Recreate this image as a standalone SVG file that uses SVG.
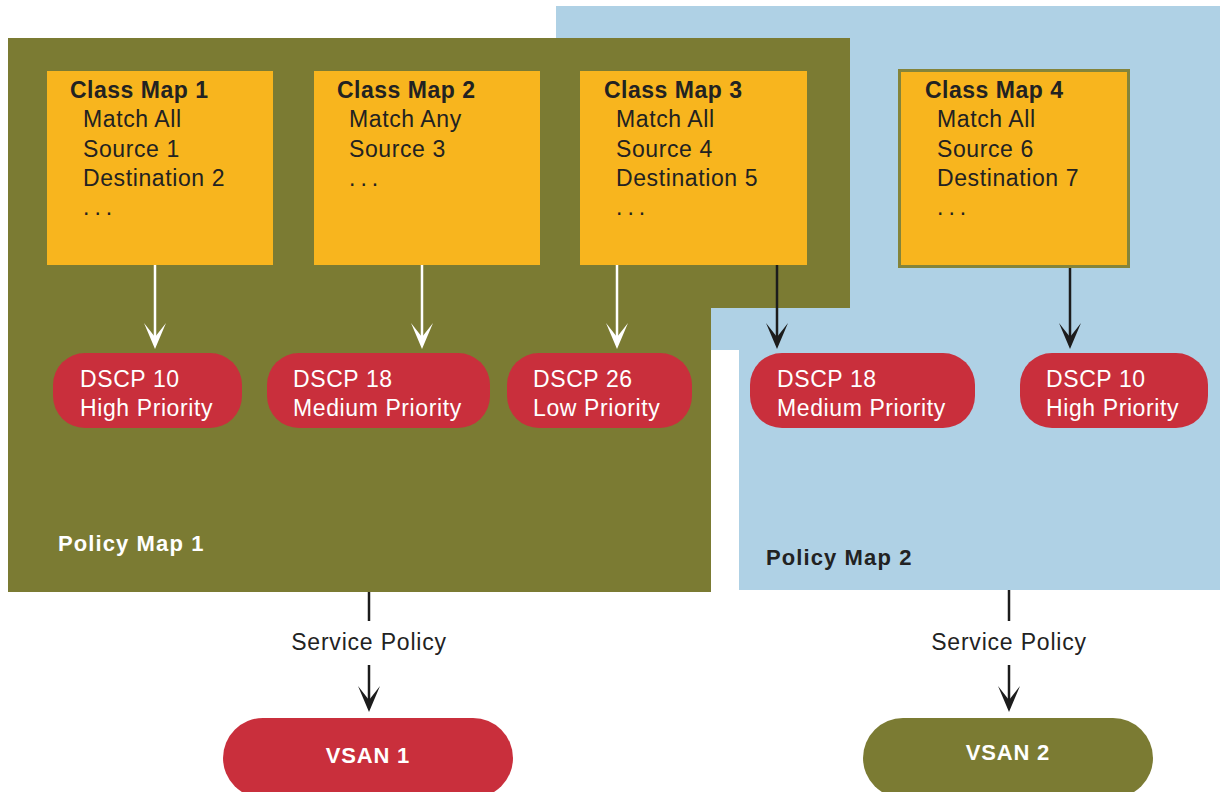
<svg xmlns="http://www.w3.org/2000/svg" width="1220" height="792" viewBox="0 0 1220 792">
<defs>
<style>
.t{font-family:"Liberation Sans",Arial,sans-serif;font-size:23px;letter-spacing:0.6px;fill:#222}
.b{font-weight:bold;letter-spacing:0.5px}
.w{fill:#fff}
.pl{font-family:"Liberation Sans",Arial,sans-serif;font-size:22px;font-weight:bold;letter-spacing:1.1px}
.vs{font-family:"Liberation Sans",Arial,sans-serif;font-size:22px;font-weight:bold;letter-spacing:0.8px;fill:#fff;text-anchor:middle}
.cm{fill:#f8b51e}
.pill{fill:#c92f3c}
.lw{stroke:#fff;stroke-width:2.5;fill:none}
.lb{stroke:#1c1c1c;stroke-width:2.5;fill:none}
</style>
<marker id="aw" viewBox="0 0 26 22" refX="16" refY="11" markerWidth="26" markerHeight="22" markerUnits="userSpaceOnUse" orient="auto">
<path d="M0,0 L26,11 L0,22 L14,11 Z" fill="#fff"/>
</marker>
<marker id="ab" viewBox="0 0 26 22" refX="16" refY="11" markerWidth="26" markerHeight="22" markerUnits="userSpaceOnUse" orient="auto">
<path d="M0,0 L26,11 L0,22 L14,11 Z" fill="#1c1c1c"/>
</marker>
</defs>
<rect width="1220" height="792" fill="#fff"/>
<g id="policy-map-2">
<polygon points="556,6 1220,6 1220,590 739,590 739,350 556,350" fill="#afd1e5"/>
<text class="pl" x="766" y="565" fill="#222">Policy Map 2</text>
</g>
<g id="policy-map-1">
<polygon points="8,38 850,38 850,308 711,308 711,592 8,592" fill="#7b7b33"/>
<text class="pl" x="58" y="551" fill="#fff">Policy Map 1</text>
</g>
<g id="class-map-1">
<rect class="cm" x="47" y="71" width="226" height="194"/>
<text class="t b" x="70" y="98">Class Map 1</text>
<text class="t" x="83" y="127">Match All</text>
<text class="t" x="83" y="157">Source 1</text>
<text class="t" x="83" y="186">Destination 2</text>
<text class="t" x="83" y="215" style="letter-spacing:5px">...</text>
</g>
<g id="class-map-2">
<rect class="cm" x="314" y="71" width="226" height="194"/>
<text class="t b" x="337" y="98">Class Map 2</text>
<text class="t" x="349" y="127">Match Any</text>
<text class="t" x="349" y="157">Source 3</text>
<text class="t" x="349" y="186" style="letter-spacing:5px">...</text>
</g>
<g id="class-map-3">
<rect class="cm" x="580" y="71" width="227" height="194"/>
<text class="t b" x="604" y="98">Class Map 3</text>
<text class="t" x="616" y="127">Match All</text>
<text class="t" x="616" y="157">Source 4</text>
<text class="t" x="616" y="186">Destination 5</text>
<text class="t" x="616" y="215" style="letter-spacing:5px">...</text>
</g>
<g id="class-map-4">
<rect class="cm" x="899.5" y="70.5" width="229" height="196" stroke="#84843a" stroke-width="3"/>
<text class="t b" x="925" y="98">Class Map 4</text>
<text class="t" x="937" y="127">Match All</text>
<text class="t" x="937" y="157">Source 6</text>
<text class="t" x="937" y="186">Destination 7</text>
<text class="t" x="937" y="215" style="letter-spacing:5px">...</text>
</g>
<g id="dscp-1">
<rect class="pill" x="53" y="353" width="189" height="75" rx="32"/>
<text class="t w" x="80" y="387">DSCP 10</text>
<text class="t w" x="80" y="416">High Priority</text>
</g>
<g id="dscp-2">
<rect class="pill" x="267" y="353" width="223" height="75" rx="32"/>
<text class="t w" x="293" y="387">DSCP 18</text>
<text class="t w" x="293" y="416">Medium Priority</text>
</g>
<g id="dscp-3">
<rect class="pill" x="507" y="353" width="185" height="75" rx="32"/>
<text class="t w" x="533" y="387">DSCP 26</text>
<text class="t w" x="533" y="416">Low Priority</text>
</g>
<g id="dscp-4">
<rect class="pill" x="750" y="353" width="225" height="75" rx="32"/>
<text class="t w" x="777" y="387">DSCP 18</text>
<text class="t w" x="777" y="416">Medium Priority</text>
</g>
<g id="dscp-5">
<rect class="pill" x="1020" y="353" width="188" height="75" rx="32"/>
<text class="t w" x="1046" y="387">DSCP 10</text>
<text class="t w" x="1046" y="416">High Priority</text>
</g>
<g id="vsan-1">
<rect class="pill" x="223" y="718" width="290" height="80" rx="40"/>
<text class="vs" x="368" y="763">VSAN 1</text>
</g>
<g id="vsan-2">
<rect x="863" y="718" width="290" height="80" rx="40" fill="#7b7b33"/>
<text class="vs" x="1008" y="760">VSAN 2</text>
</g>
<g id="connectors">
<line class="lw" x1="155" y1="265" x2="155" y2="339" marker-end="url(#aw)"/>
<line class="lw" x1="422" y1="265" x2="422" y2="339" marker-end="url(#aw)"/>
<line class="lw" x1="617" y1="265" x2="617" y2="339" marker-end="url(#aw)"/>
<line class="lb" x1="777" y1="265" x2="777" y2="339" marker-end="url(#ab)"/>
<line class="lb" x1="1070" y1="268" x2="1070" y2="339" marker-end="url(#ab)"/>
<line class="lb" x1="369" y1="592" x2="369" y2="621"/>
<line class="lb" x1="369" y1="665" x2="369" y2="702" marker-end="url(#ab)"/>
<text class="t" x="369" y="650" text-anchor="middle" style="letter-spacing:0.8px">Service Policy</text>
<line class="lb" x1="1009" y1="590" x2="1009" y2="621"/>
<line class="lb" x1="1009" y1="665" x2="1009" y2="702" marker-end="url(#ab)"/>
<text class="t" x="1009" y="650" text-anchor="middle" style="letter-spacing:0.8px">Service Policy</text>
</g>
</svg>
